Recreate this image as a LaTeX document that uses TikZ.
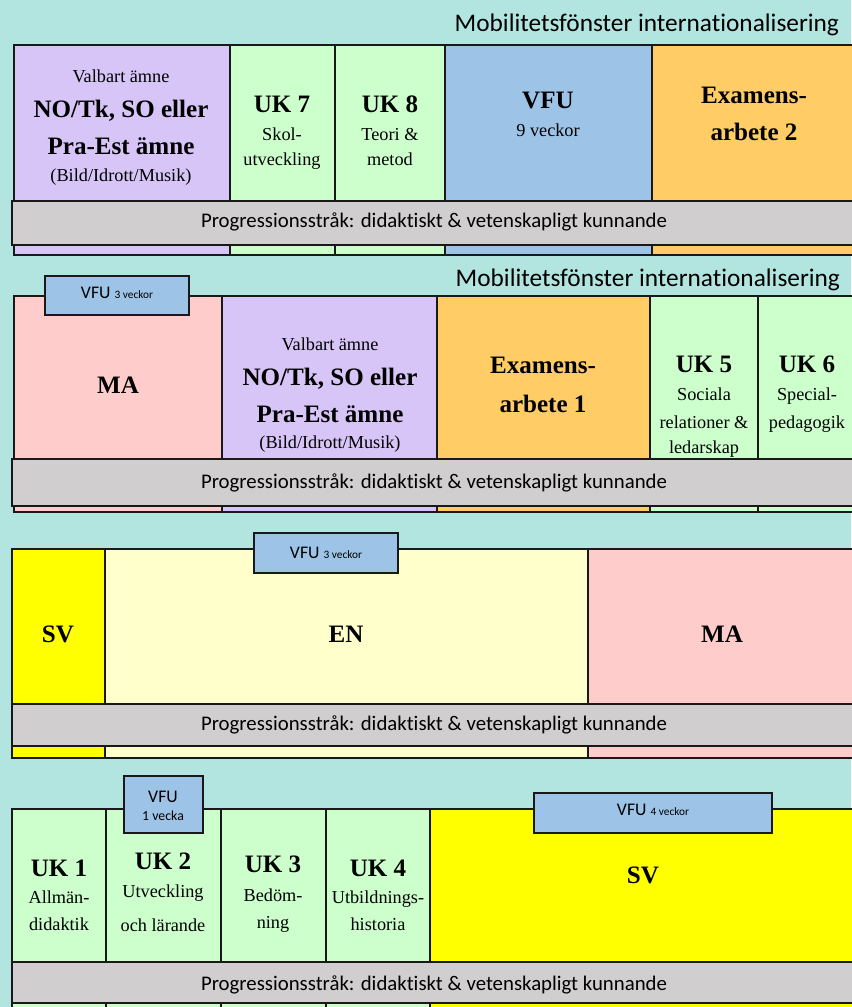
\documentclass[tikz,border=0pt]{standalone}
\usepackage{fontspec}
\setmainfont{Liberation Serif}
\newfontfamily\calibri[Ligatures=NoCommon]{Carlito}

\definecolor{bakgrund}{RGB}{178,229,224}
\definecolor{lila}{RGB}{216,197,247}
\definecolor{gron}{RGB}{204,255,204}
\definecolor{bla}{RGB}{157,195,230}
\definecolor{orange}{RGB}{255,204,102}
\definecolor{rosa}{RGB}{255,204,204}
\definecolor{gul}{RGB}{255,255,0}
\definecolor{ljusgul}{RGB}{255,255,204}
\definecolor{gra}{RGB}{208,206,206}

\tikzset{every picture/.style={line width=1.5pt}}
\tikzset{
  cell/.style={draw=black!90},
  bar/.style={draw=black!90, fill=gra},
  tab/.style={draw=black!90, fill=bla},
  lbl/.style={align=center, anchor=base, inner sep=0pt, font=\fontsize{13.7}{21}\selectfont},
  prog/.style={anchor=base, inner sep=0pt, font=\calibri\fontsize{15.6}{18}\selectfont},
  mob/.style={anchor=base east, inner sep=0pt, font=\calibri\fontsize{19}{22}\selectfont},
  vfu/.style={align=center, anchor=base, inner sep=0pt, font=\calibri\fontsize{13.3}{15}\selectfont}
}
\newcommand{\rub}[1]{{\bfseries\fontsize{18.8}{21}\selectfont #1}}

\begin{document}
\begin{tikzpicture}[x=0.75pt,y=-0.75pt]
        \fill[bakgrund] (0,0) rectangle (851,1007);
        \useasboundingbox (0,0) rectangle (851,1007);
        % rad 1
        \foreach \xa/\xb/\c in {14/230/lila, 230/335/gron, 335/445/gron, 445/652/bla, 652/856/orange}
            \draw[cell, fill=\c] (\xa,45) rectangle (\xb,255);
        % rad 2
        \foreach \xa/\xb/\c in {14/222/rosa, 222/437/lila, 437/650/orange, 650/758/gron, 758/856/gron}
            \draw[cell, fill=\c] (\xa,296) rectangle (\xb,512);
        % rad 3
        \foreach \xa/\xb/\c in {12/105/gul, 105/588/ljusgul, 588/856/rosa}
            \draw[cell, fill=\c] (\xa,549) rectangle (\xb,758);
        % rad 4
        \foreach \xa/\xb/\c in {12/106/gron, 106/221/gron, 221/326/gron, 326/430/gron, 430/856/gul}
            \draw[cell, fill=\c] (\xa,809) rectangle (\xb,1012);
        % progressionsstråk
        \foreach \i/\ya/\yb/\yt in {1/201/245/227, 2/459/506/488, 3/704/746/730, 4/962/1003/990} {
            \draw[bar] (12,\ya) rectangle (856,\yb);
            \node[prog] (prog\i) at (434,\yt) {Progressionsstråk: didaktiskt \& vetenskapligt kunnande};
        }
        % VFU-flikar
        \draw[tab] (45,276) rectangle (189,315);
        \draw[tab] (254,533) rectangle (398,573);
        \draw[tab] (124,776) rectangle (203,833);
        \draw[tab] (534,793) rectangle (772,833);
        \node[vfu] (vfuA) at (117,298) {VFU {\fontsize{8.5}{10}\selectfont 3 veckor}};
        \node[vfu] (vfuB) at (326,558) {VFU {\fontsize{8.5}{10}\selectfont 3 veckor}};
        \node[vfu] (vfuC) at (163,820) {VFU\\[-2pt]{\fontsize{10.4}{12}\selectfont 1 vecka}};
        \node[vfu] (vfuD) at (653,815) {VFU {\fontsize{8.5}{10}\selectfont 4 veckor}};
        \node[mob] (mob1) at (840,31) {Mobilitetsfönster internationalisering};
        \node[mob] (mob2) at (841,286) {Mobilitetsfönster internationalisering};
        % texter rad 1
        \node[lbl] (valbart1) at (121,181) {Valbart ämne\\[5.25pt]\rub{NO/Tk, SO eller}\\[6.75pt]\rub{Pra-Est ämne}\\[-0.75pt](Bild/Idrott/Musik)};
        \node[lbl] (uk7) at (282,165) {\rub{UK 7}\\Skol-\\[-2.25pt]utveckling};
        \node[lbl] (uk8) at (390,165) {\rub{UK 8}\\Teori \&\\[-2.25pt]metod};
        \node[lbl] (vfu9) at (548,136) {\rub{VFU}\\9 veckor};
        \node[lbl] (exa2) at (754,140) {\rub{Examens-}\\[6.75pt]\rub{arbete 2}};
        % texter rad 2
        \node[lbl] (ma2) at (118,393) {\rub{MA}};
        \node[lbl] (valbart2) at (330,448) {Valbart ämne\\[5.25pt]\rub{NO/Tk, SO eller}\\[6.75pt]\rub{Pra-Est ämne}\\[-1.5pt](Bild/Idrott/Musik)};
        \node[lbl] (exa1) at (543,412) {\rub{Examens-}\\[8.25pt]\rub{arbete 1}};
        \node[lbl] (uk5) at (704,453) {\rub{UK 5}\\Sociala\\relationer \&\\[-2.25pt]ledarskap};
        \node[lbl] (uk6) at (807,428) {\rub{UK 6}\\Special-\\pedagogik};
        % texter rad 3
        \node[lbl] (sv3) at (58,642) {\rub{SV}};
        \node[lbl] (en3) at (346,642) {\rub{EN}};
        \node[lbl] (ma3) at (722,642) {\rub{MA}};
        % texter rad 4
        \node[lbl] (uk1) at (59,930) {\rub{UK 1}\\[-0.75pt]Allmän-\\[-0.75pt]didaktik};
        \node[lbl] (uk2) at (163,931) {\rub{UK 2}\\Utveckling\\[4.5pt]och lärande};
        \node[lbl] (uk3) at (273,928) {\rub{UK 3}\\[0.75pt]Bedöm-\\[-0.75pt]ning};
        \node[lbl] (uk4) at (378,930) {\rub{UK 4}\\[-0.75pt]Utbildnings-\\[-0.75pt]historia};
        \node[lbl] (sv4) at (643,883) {\rub{SV}};
    \end{tikzpicture}
\end{document}
